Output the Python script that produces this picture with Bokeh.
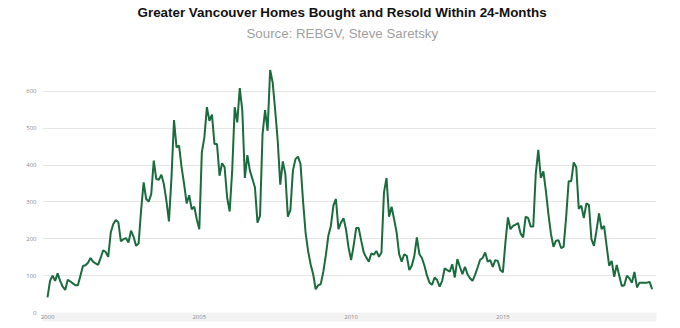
from bokeh.plotting import figure
from bokeh.models import Title, FixedTicker, Range1d
from bokeh.embed import file_html
from bokeh.resources import INLINE

TITLE = "Greater Vancouver Homes Bought and Resold Within 24-Months"
SUBTITLE = "Source: REBGV, Steve Saretsky"
START_YEAR = 2000
x_tick_years = [2000, 2005, 2010, 2015]
y_tick_values = [0, 100, 200, 300, 400, 500, 600]

# monthly counts, Jan 2000 onward
resold_2000_2004 = [41, 86, 100, 86, 106, 86, 70, 61, 89, 84, 79, 74,
                    74, 100, 126, 128, 135, 148, 138, 133, 129, 148, 169, 164,
                    151, 217, 240, 251, 245, 193, 199, 202, 190, 222, 206, 181,
                    187, 278, 353, 308, 301, 321, 412, 362, 360, 374, 348, 303,
                    247, 366, 522, 448, 453, 394, 348, 296, 318, 280, 287, 253]
resold_2005_2009 = [226, 434, 475, 557, 520, 537, 457, 457, 371, 405, 394, 312,
                    274, 385, 557, 516, 609, 548, 365, 427, 385, 362, 339, 244,
                    262, 484, 549, 493, 658, 624, 548, 466, 347, 410, 376, 260,
                    278, 385, 416, 423, 403, 303, 217, 167, 131, 104, 63, 74,
                    77, 110, 154, 208, 235, 290, 308, 226, 244, 256, 225, 176]
resold_2010_2014 = [142, 181, 229, 229, 195, 163, 149, 138, 160, 157, 167, 151,
                    163, 326, 365, 260, 287, 253, 217, 158, 138, 158, 154, 115,
                    127, 154, 204, 158, 148, 127, 100, 81, 75, 95, 88, 70,
                    86, 120, 115, 111, 131, 95, 145, 124, 104, 124, 104, 93,
                    86, 102, 122, 143, 148, 163, 138, 142, 124, 142, 140, 115]
resold_2015_2019 = [109, 190, 258, 226, 235, 238, 243, 214, 204, 260, 256, 233,
                    233, 377, 441, 365, 383, 330, 267, 213, 178, 195, 196, 175,
                    178, 258, 356, 356, 407, 394, 281, 290, 256, 296, 292, 199,
                    181, 222, 269, 226, 235, 181, 127, 140, 97, 129, 100, 72,
                    74, 100, 93, 81, 110, 68, 81, 81, 81, 81, 83, 63]

resold = resold_2000_2004 + resold_2005_2009 + resold_2010_2014 + resold_2015_2019
months = [START_YEAR + i / 12 for i in range(len(resold))]

p = figure(width=680, height=328, output_backend="svg", toolbar_location=None,
           x_range=Range1d(1999.835, 2020.06), y_range=Range1d(0, 700),
           min_border_left=42, min_border_right=24, min_border_top=54,
           min_border_bottom=16, background_fill_color="white",
           border_fill_color="white")
p.outline_line_color = None

# invisible spacer between the subtitle and the plot area
p.add_layout(Title(text=" ", text_font_size="1px", standoff=7), "above")
p.add_layout(Title(text=SUBTITLE, align="left", offset=204, text_font_size="13.3px",
                   text_font="Liberation Sans", text_font_style="normal",
                   text_color="#a0a0a0", standoff=8), "above")
p.add_layout(Title(text=TITLE, align="left", offset=95, text_font_size="13.4px",
                   text_font="Liberation Sans", text_font_style="bold",
                   text_color="#111111", standoff=0), "above")

p.line(months, resold, line_color="#1a6b3d", line_width=2)

p.xgrid.grid_line_color = None
p.ygrid.ticker = FixedTicker(ticks=y_tick_values)
p.ygrid.grid_line_color = "#e6e6e6"
p.ygrid.grid_line_width = 1

p.xaxis.ticker = FixedTicker(ticks=x_tick_years)
p.yaxis.ticker = FixedTicker(ticks=y_tick_values)
for ax in (p.xaxis[0], p.yaxis[0]):
    ax.axis_line_color = None
    ax.major_tick_line_color = None
    ax.minor_tick_line_color = None
    ax.major_tick_out = 0
    ax.major_tick_in = 0
    ax.minor_tick_out = 0
    ax.major_label_text_font = "Open Sans"
    ax.major_label_text_font_size = "6px"
    ax.major_label_text_color = "#8a8a8a"
p.yaxis.major_label_standoff = 6
p.xaxis.major_label_standoff = 2
if "background_fill_color" in p.xaxis[0].properties():
    p.xaxis[0].background_fill_color = "#f3f3f3"

open("out.html", "w").write(file_html(p, INLINE))
